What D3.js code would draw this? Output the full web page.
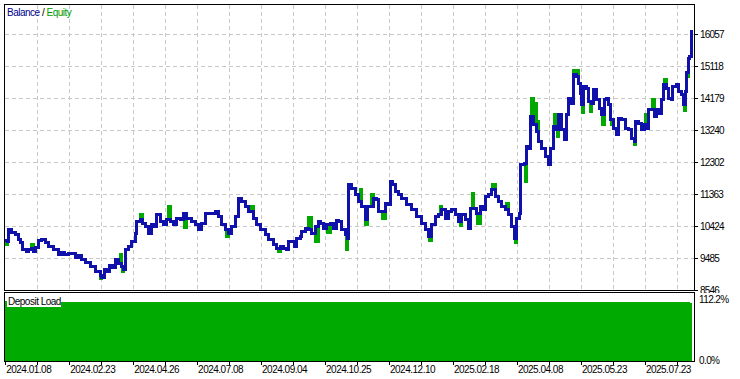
<!DOCTYPE html>
<html><head><meta charset="utf-8">
<script src="https://cdn.jsdelivr.net/npm/d3@7"></script>
<style>
body{margin:0;background:#fff;}
svg{display:block;}
text{font-family:"Liberation Sans",Arial,sans-serif;font-size:10px;letter-spacing:-0.5px;}
</style>
</head><body>
<svg id="c" width="740" height="379"></svg>
<script>
// ---- data (deal number, account value) ----
const balance = [[-0.4,10000],[0.6,9980],[0.72,10316],[1.34,10336],[1.88,10237],[2.91,10169],[3.94,10043],[4.78,9943],[5.32,9729],[6.35,9679],[7.07,9750],[8.13,9779],[8.63,9679],[9.47,9808],[10.19,10002],[11.26,10043],[12.29,9943],[13.32,9826],[14.88,9729],[16.45,9582],[17.51,9650],[18.54,9582],[19.57,9612],[20.64,9612],[21.67,9515],[22.70,9553],[23.76,9456],[24.80,9356],[26.36,9239],[27.92,9092],[29.49,8966],[30.02,8928],[30.74,9142],[31.58,9092],[32.40,9280],[33.46,9221],[34.18,9456],[35.21,9339],[36.27,9230],[36.77,9142],[37.31,9729],[38.34,9826],[39.40,9973],[40.43,10219],[40.96,10559],[42.00,10609],[42.84,10512],[43.56,10413],[44.59,10219],[45.65,10463],[46.47,10413],[47.22,10756],[48.25,10559],[49.28,10463],[50.34,10609],[51.38,10559],[52.41,10463],[53.47,10659],[54.50,10609],[55.54,10806],[56.60,10659],[58.16,10559],[59.19,10463],[60.23,10316],[61.29,10512],[62.32,10806],[63.35,10785],[64.42,10806],[65.45,10853],[66.48,10706],[67.54,10463],[68.57,10316],[69.61,10219],[70.67,10413],[71.70,10706],[72.73,11246],[73.80,11146],[74.83,11000],[75.86,10853],[77.42,10659],[78.49,10463],[79.52,10316],[81.08,10169],[82.11,10022],[83.68,9876],[84.74,9779],[85.77,9826],[86.80,9779],[87.87,9729],[88.37,9973],[89.43,9973],[90.15,9826],[90.99,10072],[92.03,10119],[92.56,10266],[93.59,10366],[94.62,10316],[95.68,10219],[96.72,10413],[97.75,10559],[98.28,10512],[99.31,10366],[100.38,10463],[101.41,10512],[102.44,10366],[103.28,10589],[104.00,10559],[105.07,10316],[106.10,10169],[106.82,10072],[107.13,11636],[108.19,11540],[109.22,11343],[110.26,11146],[111.32,11000],[112.35,10609],[113.07,11000],[113.91,11000],[114.95,11246],[115.79,11196],[116.51,10853],[117.57,10853],[118.60,11099],[119.32,11050],[120.17,11733],[121.01,11636],[121.73,11440],[122.76,11343],[123.83,11246],[125.39,11050],[126.95,10903],[128.52,10706],[130.08,10512],[131.11,10316],[132.15,10119],[133.21,10463],[134.24,10706],[135.27,10756],[136.34,10903],[137.37,10659],[138.40,10853],[139.46,10903],[140.50,10756],[141.53,10559],[142.59,10756],[143.62,10609],[144.65,10366],[145.40,10953],[146.22,10953],[147.28,10806],[148.31,11000],[149.34,10903],[150.09,11293],[150.91,11343],[151.97,11490],[153.00,11293],[154.03,11146],[155.10,11000],[156.13,10903],[157.16,10756],[158.22,10413],[158.94,10072],[159.79,10659],[160.60,10806],[161.04,12223],[162.07,12273],[162.70,12760],[163.41,12713],[164.16,13641],[164.98,13397],[165.82,13200],[166.54,12907],[167.60,12713],[168.63,12467],[169.66,12223],[170.19,12713],[171.23,13347],[172.29,13250],[172.79,13690],[173.64,13250],[174.58,12957],[175.42,13690],[175.92,14180],[176.67,14034],[177.49,14864],[178.33,14814],[179.05,14621],[179.58,14327],[180.11,13984],[180.61,14521],[181.68,14474],[182.18,14081],[183.24,14034],[183.74,14424],[184.81,14131],[185.62,13887],[186.37,13690],[187.09,14131],[187.93,14180],[188.43,13984],[188.96,13544],[190.00,13300],[190.84,13104],[191.56,13594],[192.62,13544],[193.65,13300],[194.68,13250],[195.75,13007],[196.47,12907],[196.78,13494],[197.81,13447],[198.87,13250],[199.59,13397],[200.22,13300],[200.94,13837],[202.00,13837],[202.72,13641],[203.56,13837],[204.38,13740],[205.13,14131],[205.63,14571],[206.69,14474],[207.19,14180],[208.25,14131],[208.57,14521],[209.60,14571],[210.32,14374],[211.38,14277],[211.88,13984],[212.41,14374],[212.88,14923],[213.45,15354],[213.82,15401],[214.51,16185]];

// equity readings where equity differs from balance (floating drawdowns / run-ups)
const equityExtra = [[0.2,9876],[8.2,9876],[29.64,8878],[35.74,9582],[36.37,9083],[42.3,10756],[50.75,10991],[55.9,10375],[69.0,10110],[76.4,11000],[85.2,9679],[94.7,10668],[97.0,9964],[100.5,10228],[106.6,9729],[111.0,11490],[112.6,10463],[114.3,11343],[117.9,10660],[132.6,10020],[135.8,11000],[142.2,10440],[145.8,11400],[147.6,10520],[152.3,11640],[156.7,11100],[159.3,9960],[162.4,11730],[164.4,14180],[165.3,14034],[166.0,13500],[171.7,13690],[172.5,13045],[177.6,15010],[178.5,15000],[180.3,13750],[182.9,13790],[186.7,13400],[189.4,13400],[196.6,12810],[199.9,13690],[202.3,14130],[206.1,14720],[212.1,13830],[213.1,14810]];

// deposit load, percent (one reading per 2 deals)
const depositLoad = [109.5,107.2,106.8,106.5,107.0,106.6,106.9,106.4,106.8,107.1,
106.5,106.9,106.3,106.7,107.0,106.6,106.4,106.9,107.2,106.5,
106.8,106.6,107.0,106.4,106.9,106.7,107.1,106.5,106.8,106.6,
107.0,106.3,106.9,106.7,107.2,106.5,106.8,106.4,107.0,106.6,
106.9,107.3,106.5,106.8,106.6,107.0,106.4,106.9,106.7,107.1,
106.5,106.8,106.6,107.0,106.3,106.9,106.7,107.2,106.5,106.8,
106.4,107.0,106.6,106.9,106.5,107.1,106.7,106.8,106.4,107.0,
106.6,106.9,106.5,107.2,106.7,106.8,106.4,107.0,106.6,106.9,
106.5,107.1,106.7,106.8,106.3,107.0,106.6,106.9,106.5,107.2,
106.7,106.8,106.4,107.0,106.6,106.9,106.5,107.1,106.7,106.8,
106.4,107.0,106.6,106.9,106.5,107.1,106.7,105.8];

const yTickLabels = ["8546","9485","10424","11363","12302","13240","14179","15118","16057"];
const xTickLabels = ["2024.01.08","2024.02.23","2024.04.26","2024.07.08","2024.09.04","2024.10.25","2024.12.10","2025.02.18","2025.04.08","2025.05.23","2025.07.23"];
const loadTickLabels = ["0.0%","112.2%"];
const lastDeal = 214.51;

// ---- layout ----
const svg = d3.select("#c");
const M = {l:4, r:694, t:4, b:290};
const D = {t:292, b:361};
const x = d3.scaleLinear().domain([0,215.2]).range([5.7,694]);
const y = d3.scaleLinear().domain([8546,16938]).range([290.3,4.3]);
const yl = d3.scaleLinear().domain([0,112.2]).range([361.5,299]);

const defs = svg.append("defs");
defs.append("clipPath").attr("id","cm").append("rect")
  .attr("x",M.l+1).attr("y",M.t+1).attr("width",M.r-M.l-1).attr("height",M.b-M.t-1);
defs.append("clipPath").attr("id","cd").append("rect")
  .attr("x",M.l+1).attr("y",D.t+1).attr("width",M.r-M.l-1).attr("height",D.b-D.t);

const grid = "#c8c8c8";
// horizontal gridlines
svg.append("g").selectAll("line").data(yTickLabels.slice(1)).join("line")
  .attr("x1",M.l+1).attr("x2",M.r)
  .attr("y1",d=>Math.round(y(+d))+0.5).attr("y2",d=>Math.round(y(+d))+0.5)
  .attr("stroke",grid).attr("stroke-dasharray","4,3");
// vertical gridlines
const gridDeals = d3.range(10,215,10);
svg.append("g").selectAll("line").data(gridDeals).join("line")
  .attr("x1",d=>Math.floor(x(d))+0.5).attr("x2",d=>Math.floor(x(d))+0.5)
  .attr("y1",M.t+1).attr("y2",M.b)
  .attr("stroke",grid).attr("stroke-dasharray","4,3");

// lines
const equity = balance.concat(equityExtra).sort((a,b)=>a[0]-b[0]);
const line = d3.line().x(d=>x(d[0])).y(d=>y(d[1])).curve(d3.curveStepAfter);
const gl = svg.append("g").attr("clip-path","url(#cm)");
gl.append("path").attr("d",line(equity)).attr("fill","none")
  .attr("stroke","#00a800").attr("stroke-width",3).attr("shape-rendering","crispEdges");
gl.append("path").attr("d",line(balance)).attr("fill","none")
  .attr("stroke","#1010aa").attr("stroke-width",3).attr("shape-rendering","crispEdges");

// deposit load bars
const gd = svg.append("g").attr("clip-path","url(#cd)").attr("shape-rendering","crispEdges");
gd.selectAll("rect").data(depositLoad).join("rect")
  .attr("x",(d,i)=>x(i*2-0.5))
  .attr("width",(d,i)=>Math.max(0,x(Math.min(i*2+1.8,lastDeal))-x(i*2-0.5)))
  .attr("y",d=>yl(d)).attr("height",d=>yl(0)-yl(d)+1)
  .attr("fill","#00aa00");

// frames
svg.append("rect").attr("x",M.l+0.5).attr("y",M.t+0.5).attr("width",M.r-M.l).attr("height",M.b-M.t)
  .attr("fill","none").attr("stroke","#000");
svg.append("rect").attr("x",M.l+0.5).attr("y",D.t+0.5).attr("width",M.r-M.l).attr("height",D.b-D.t)
  .attr("fill","none").attr("stroke","#000");

// legend
const lg = svg.append("text").attr("x",7).attr("y",16);
lg.append("tspan").attr("fill","#00008b").text("Balance");
lg.append("tspan").attr("fill","#000").text(" / ");
lg.append("tspan").attr("fill","#009c00").text("Equity");

// right axis (balance)
const ra = svg.append("g");
ra.selectAll("line").data(yTickLabels).join("line")
  .attr("x1",M.r+0.5).attr("x2",M.r+4)
  .attr("y1",d=>Math.round(y(+d))+0.5).attr("y2",d=>Math.round(y(+d))+0.5)
  .attr("stroke","#000");
ra.selectAll("text").data(yTickLabels).join("text")
  .attr("x",700).attr("y",d=>y(+d)+4).style("letter-spacing","-0.8px").text(d=>d);

// deposit load labels
svg.append("rect").attr("x",M.r+2).attr("y",D.t+1).attr("width",44).attr("height",11).attr("fill","#fff");
svg.append("g").selectAll("text").data(loadTickLabels).join("text")
  .attr("x",699).attr("y",(d,i)=>i===0?364:302.5).style("letter-spacing","-0.6px").text(d=>d);

// deposit load title
svg.append("rect").attr("x",7).attr("y",297).attr("width",54).attr("height",10).attr("fill","#fff");
svg.append("text").attr("x",8).attr("y",305).attr("fill","#000").text("Deposit Load");

// bottom axis
const ba = svg.append("g");
ba.selectAll("line").data(d3.range(0,215,10)).join("line")
  .attr("x1",d=>Math.floor(x(d))+0.5).attr("x2",d=>Math.floor(x(d))+0.5)
  .attr("y1",D.b+1).attr("y2",D.b+4).attr("stroke","#000");
ba.selectAll("text").data(xTickLabels).join("text")
  .attr("x",(d,i)=>x(i*20)+0.5).attr("y",373).text(d=>d);
</script>
</body></html>
